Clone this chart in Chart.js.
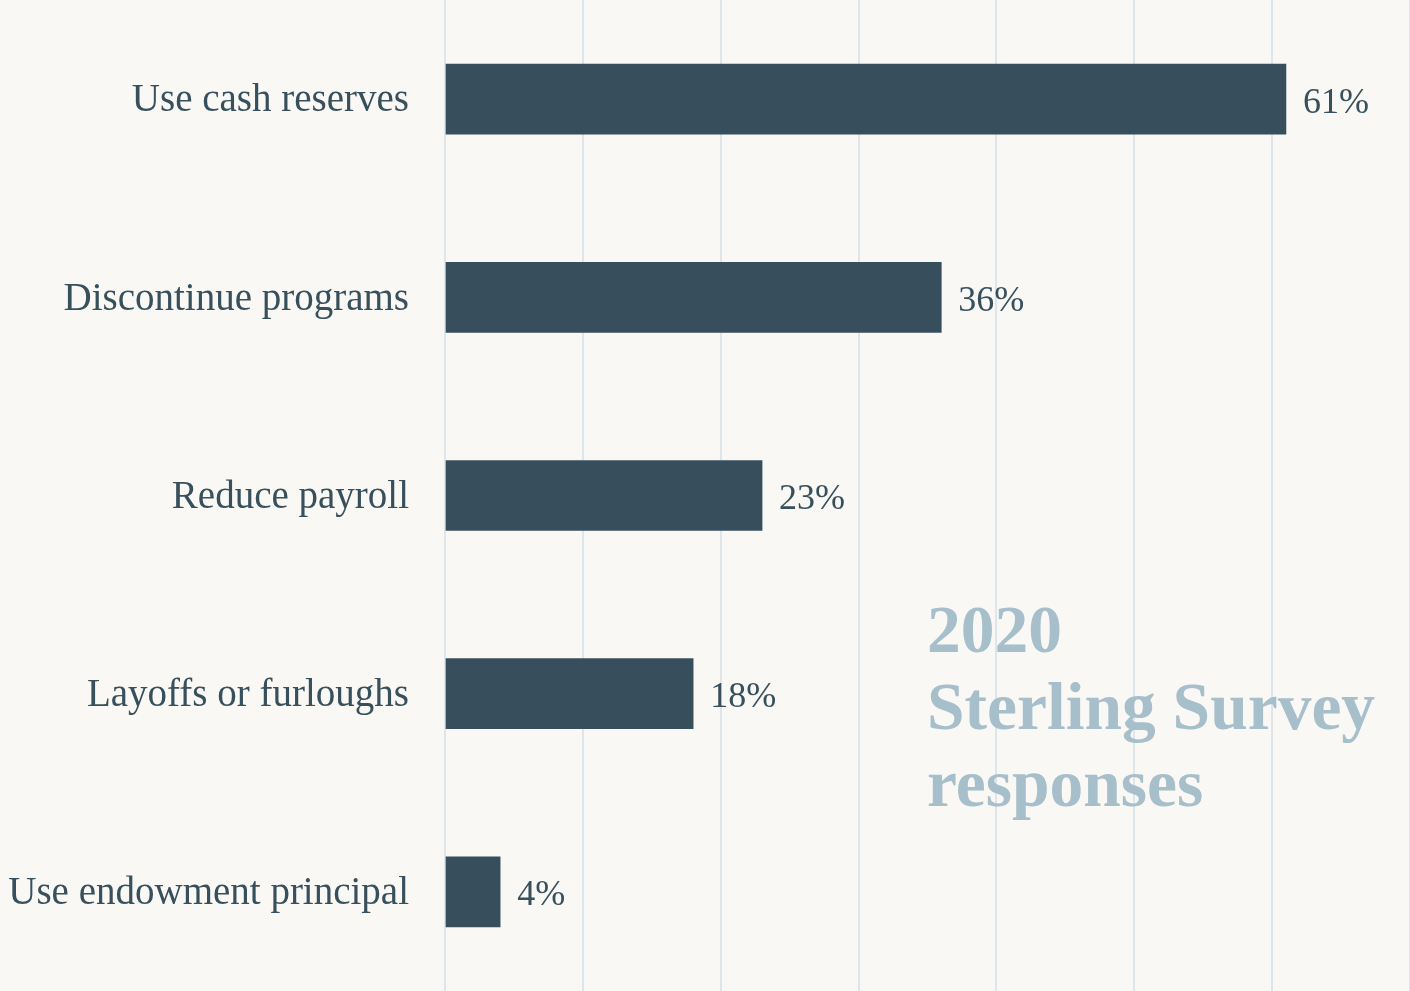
<!DOCTYPE html>
<html>
<head>
<meta charset="utf-8">
<script src="https://cdn.jsdelivr.net/npm/chart.js@4"></script>
<style>
  html, body { margin: 0; padding: 0; background: #f9f8f5; }
  #wrap { position: relative; width: 1410px; height: 991px; }
  canvas { display: block; }
  #title {
    position: absolute; left: 927px; top: 591px;
    font-family: "Liberation Serif", serif; font-weight: bold;
    font-size: 67.5px; line-height: 77px; color: #a6bfcb;
  }
</style>
</head>
<body>
<div id="wrap">
  <canvas id="c" width="1410" height="991"></canvas>
  <div id="title">2020<br>Sterling Survey<br>responses</div>
</div>
<script>
const categories = [
  "Use cash reserves",
  "Discontinue programs",
  "Reduce payroll",
  "Layoffs or furloughs",
  "Use endowment principal"
];
const shares = [61, 36, 23, 18, 4];
const xTicks = [0, 10, 20, 30, 40, 50, 60, 70];

const inkColor = "#37505c";
const serif = "'Liberation Serif', serif";

// Percentage label just past the end of each bar
const valueLabels = {
  id: "valueLabels",
  afterDatasetsDraw(chart) {
    const ctx = chart.ctx;
    const meta = chart.getDatasetMeta(0);
    ctx.save();
    ctx.font = "36px " + serif;
    ctx.fillStyle = inkColor;
    ctx.textAlign = "left";
    ctx.textBaseline = "middle";
    meta.data.forEach((bar, i) => {
      ctx.fillText(shares[i] + "%", bar.x + 17, bar.y + 4);
    });
    ctx.restore();
  }
};

new Chart(document.getElementById("c"), {
  type: "bar",
  data: {
    labels: categories,
    datasets: [{
      data: shares,
      backgroundColor: "#374f5c",
      borderWidth: 0,
      barThickness: 70
    }]
  },
  options: {
    indexAxis: "y",
    responsive: false,
    animation: false,
    layout: { padding: 0 },
    plugins: { legend: { display: false }, tooltip: { enabled: false } },
    scales: {
      x: {
        min: 0, max: 70,
        afterBuildTicks(scale) { scale.ticks = xTicks.map(v => ({ value: v })); },
        afterFit(scale) { scale.height = 0; scale.paddingLeft = 0; scale.paddingRight = 0; },
        ticks: { display: false },
        border: { display: false },
        grid: { color: "#dfe6eb", lineWidth: 2, drawTicks: false }
      },
      y: {
        afterFit(scale) { scale.width = 445; scale.paddingTop = 0; scale.paddingBottom = 0; },
        border: { display: false },
        grid: { display: false, drawTicks: false },
        ticks: {
          color: inkColor,
          padding: 36,
          labelOffset: 2,
          font: { family: serif, size: 39 }
        }
      }
    }
  },
  plugins: [valueLabels]
});
</script>
</body>
</html>
